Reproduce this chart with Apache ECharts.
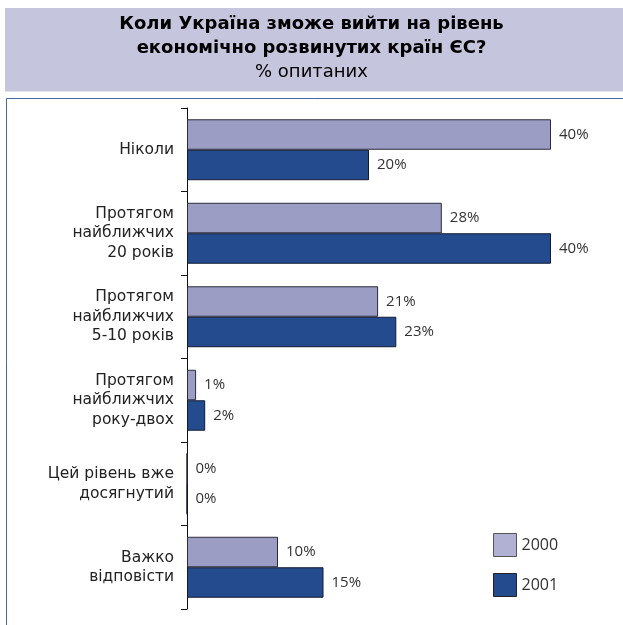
<!DOCTYPE html>
<html>
<head>
<meta charset="utf-8">
<script src="https://cdn.jsdelivr.net/npm/echarts@6/dist/echarts.min.js"></script>
<style>
  html, body { margin: 0; padding: 0; background: #fff; }
  #chart { width: 623px; height: 625px; }
</style>
</head>
<body>
<div id="chart"></div>
<script>
// Survey answers: "When can Ukraine reach the level of developed EU countries?"
const categories = [
  'Ніколи',
  'Протягом\nнайближчих\n20 років',
  'Протягом\nнайближчих\n5-10 років',
  'Протягом\nнайближчих\nроку-двох',
  'Цей рівень вже\nдосягнутий',
  'Важко\nвідповісти'
];
const years = ['2000', '2001'];
const values2000 = [40, 28, 21, 1, 0, 10];
const values2001 = [20, 40, 23, 2, 0, 15];

const FONT = '"Open Sans", "DejaVu Sans", sans-serif';
const WIDE = '"DejaVu Sans", sans-serif';
const chart = echarts.init(document.getElementById('chart'));

const valueLabel = {
  show: true,
  position: 'right',
  distance: 8,
  formatter: '{c}%',
  color: '#333',
  fontFamily: FONT,
  fontSize: 15
};

chart.setOption({
  backgroundColor: '#fff',
  animation: false,
  graphic: [
    {
      type: 'rect',
      z: -10,
      shape: { x: 5, y: 8, width: 620, height: 83.5 },
      style: { fill: '#c5c5dd' }
    },
    {
      type: 'polyline',
      z: -10,
      shape: { points: [[6.5, 625], [6.5, 98.5], [623, 98.5]] },
      style: { fill: null, stroke: '#4a66a6', lineWidth: 1 }
    }
  ],
  title: {
    text: 'Коли Україна зможе вийти на рівень\nекономічно розвинутих країн ЄС?',
    subtext: '% опитаних',
    left: 'center',
    top: 12,
    itemGap: 0,
    padding: 0,
    textStyle: {
      fontFamily: WIDE,
      fontWeight: 'bold',
      fontSize: 18,
      lineHeight: 24,
      color: '#000'
    },
    subtextStyle: {
      fontFamily: WIDE,
      fontSize: 18,
      lineHeight: 24,
      color: '#000'
    }
  },
  legend: {
    orient: 'vertical',
    left: 493,
    top: 533,
    padding: 0,
    itemWidth: 23,
    itemHeight: 23,
    itemGap: 16,
    icon: 'rect',
    textStyle: { fontFamily: FONT, fontSize: 16, color: '#333' },
    data: [
      { name: years[0], itemStyle: { color: '#b1b1d3', borderColor: '#555', borderWidth: 1 } },
      { name: years[1], itemStyle: { color: '#234b8e', borderColor: '#222', borderWidth: 1 } }
    ]
  },
  grid: { left: 187, right: 72, top: 108, bottom: 16 },
  xAxis: {
    type: 'value',
    min: 0,
    max: 40,
    show: false
  },
  yAxis: {
    type: 'category',
    inverse: true,
    data: categories,
    axisLine: { show: true, lineStyle: { color: '#111', width: 1 } },
    axisTick: { show: true, length: 6, lineStyle: { color: '#111' } },
    axisLabel: {
      margin: 13,
      color: '#222',
      fontFamily: WIDE,
      fontSize: 15.5,
      lineHeight: 19.5,
      align: 'right'
    }
  },
  series: [
    {
      name: years[0],
      type: 'bar',
      data: values2000,
      barGap: '0%',
      barCategoryGap: '27%',
      itemStyle: { color: '#9b9dc5', borderColor: '#2b2b3b', borderWidth: 1 },
      label: valueLabel
    },
    {
      name: years[1],
      type: 'bar',
      data: values2001,
      itemStyle: { color: '#234b8e', borderColor: '#111a33', borderWidth: 1 },
      label: valueLabel
    }
  ]
});
</script>
</body>
</html>
